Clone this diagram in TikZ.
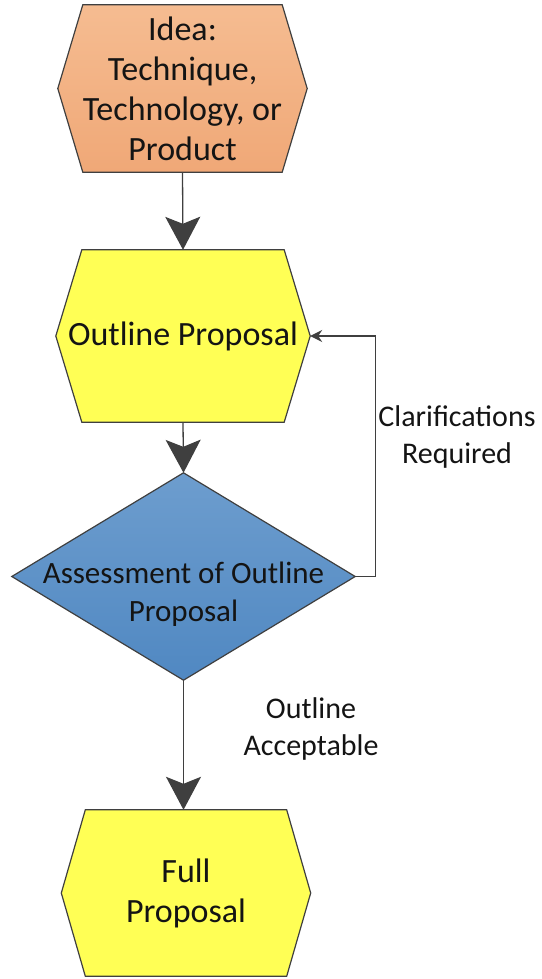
\documentclass[tikz,border=0pt]{standalone}
\usepackage{fontspec}
\setmainfont{Carlito}
\usetikzlibrary{arrows.meta,backgrounds}
\definecolor{edge}{HTML}{3F3F3F}
\definecolor{txt}{HTML}{141414}
\definecolor{orangetop}{HTML}{F5BC91}
\definecolor{orangebot}{HTML}{F0A877}
\definecolor{yellowfill}{HTML}{FFFF55}
\definecolor{bluetop}{HTML}{6D9DCE}
\definecolor{bluebot}{HTML}{5088C2}
\begin{document}
\begin{tikzpicture}[x=1pt,y=-1pt,
  box/.style={inner sep=0pt, align=center, text=txt, font=\fontsize{34}{40}\selectfont},
  dtext/.style={inner sep=0pt, align=center, text=txt, font=\fontsize{31}{38}\selectfont},
  lbl/.style={inner sep=0pt, align=center, text=txt, font=\fontsize{30}{37}\selectfont},
  shp/.style={draw=edge, line width=1.2pt, line join=miter},
  flow/.style={draw=edge, line width=1.3pt, -{Stealth[length=33pt,width=35pt,inset=7pt]}},
  back/.style={draw=edge, line width=1.2pt, -{Stealth[length=12pt,width=12pt,inset=4pt]}}
]
\useasboundingbox (0,0) rectangle (541,979);

\node[box, minimum width=249pt, minimum height=167pt] (idea) at (182.5,88.5)
  {Idea:\\Technique,\\Technology, or\\Product};
\node[box, minimum width=254pt, minimum height=172pt] (outline) at (183,336)
  {Outline Proposal};
\node[inner sep=0pt, minimum width=343pt, minimum height=207pt] (assess) at (183.5,576.5) {};
\node[dtext] (assesstxt) at (183.5,594) {Assessment of Outline\\Proposal};
\node[box, minimum width=249pt, minimum height=166pt] (full) at (186,893)
  {Full\\Proposal};

\node[lbl] (clar) at (457,437) {Clarifications\\Required};
\node[lbl] (acc) at (311,729) {Outline\\Acceptable};

\begin{scope}[on background layer]
  \path[shp, top color=orangetop, bottom color=orangebot]
    ([xshift=25pt]idea.north west) -- ([xshift=-25pt]idea.north east) -- (idea.east)
    -- ([xshift=-25pt]idea.south east) -- ([xshift=25pt]idea.south west) -- (idea.west) -- cycle;
  \path[shp, fill=yellowfill]
    ([xshift=26pt]outline.north west) -- ([xshift=-26pt]outline.north east) -- (outline.east)
    -- ([xshift=-26pt]outline.south east) -- ([xshift=26pt]outline.south west) -- (outline.west) -- cycle;
  \path[shp, top color=bluetop, bottom color=bluebot]
    (assess.north) -- (assess.east) -- (assess.south) -- (assess.west) -- cycle;
  \path[shp, fill=yellowfill]
    ([xshift=24pt]full.north west) -- ([xshift=-24pt]full.north east) -- (full.east)
    -- ([xshift=-24pt]full.south east) -- ([xshift=24pt]full.south west) -- (full.west) -- cycle;
\end{scope}

\draw[flow] (idea.south) -- (outline.north);
\draw[flow] (outline.south) -- (assess.north);
\draw[flow] (assess.south) -- (assess.south |- full.north);
\draw[back] (assess.east) -- ++(20,0) |- (outline.east);
\end{tikzpicture}
\end{document}
